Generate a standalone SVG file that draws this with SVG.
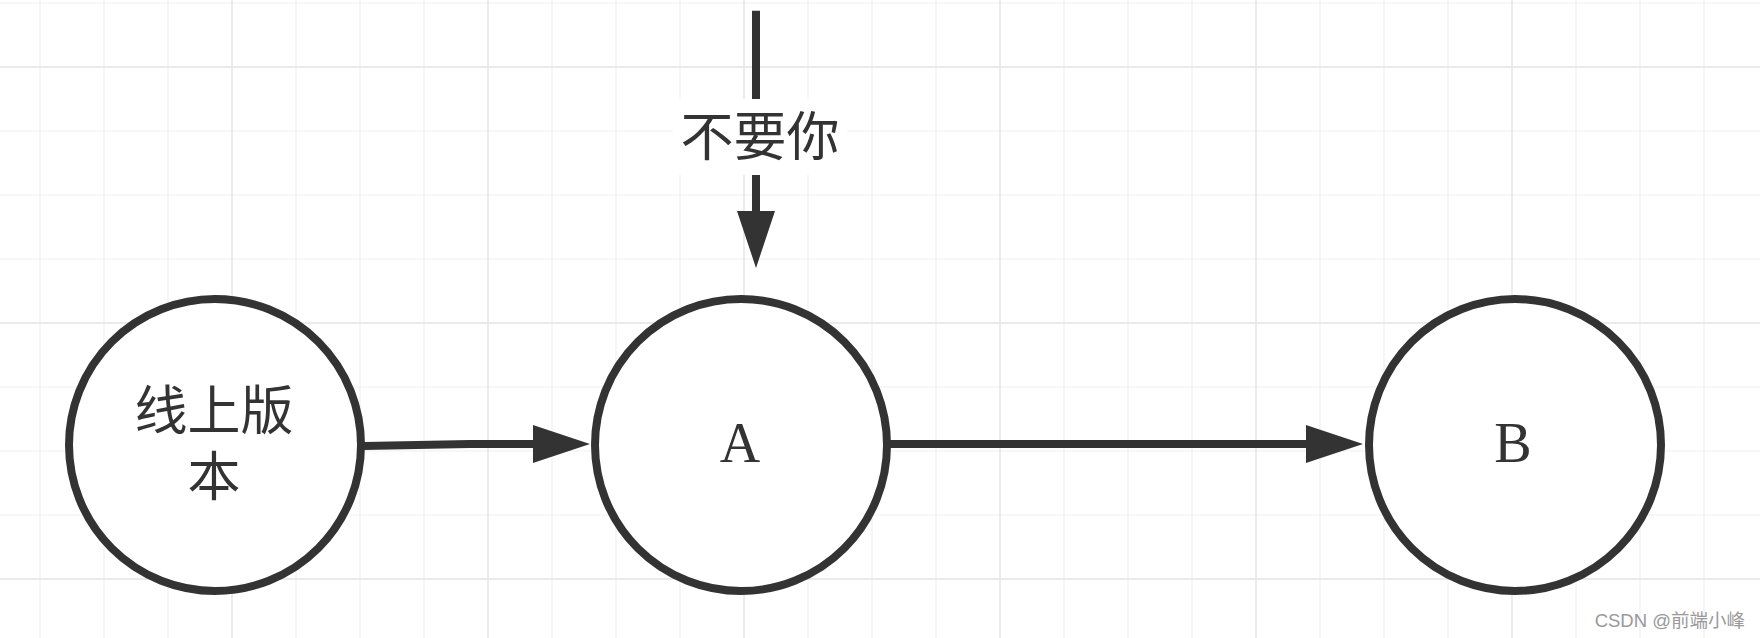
<svg xmlns="http://www.w3.org/2000/svg" width="1760" height="638" viewBox="0 0 1760 638">
<style>
.minor{stroke:#f0f0f0;stroke-width:1.2;fill:none}
.major{stroke:#e4e4e4;stroke-width:1.4;fill:none}
.node{fill:#ffffff;stroke:#333333;stroke-width:8}
.edge{fill:none;stroke:#333333;stroke-width:8;stroke-linejoin:round}
.cjk{font-family:"Liberation Serif","Noto Sans CJK SC",serif;font-size:53px;fill:#333333}
.lat{font-family:"Liberation Serif","Noto Sans CJK SC",serif;font-size:56px;fill:#333333}
.wm{font-family:"Liberation Sans","Noto Sans CJK SC",sans-serif;font-size:18.5px;fill:#999999}
</style>
<defs>
<marker id="arrow" viewBox="0 0 57 38" refX="0" refY="19" markerWidth="57" markerHeight="38" markerUnits="userSpaceOnUse" orient="auto">
<path d="M0,0 L57,19 L0,38 Z" fill="#333333"/>
</marker>
</defs>
<rect width="1760" height="638" fill="#ffffff"/>
<g id="grid">
<path class="minor" d="M40 0V638M104 0V638M168 0V638M296 0V638M360 0V638M424 0V638M552 0V638M616 0V638M680 0V638M808 0V638M872 0V638M936 0V638M1064 0V638M1128 0V638M1192 0V638M1320 0V638M1384 0V638M1448 0V638M1576 0V638M1640 0V638M1704 0V638M0 3H1760M0 131H1760M0 195H1760M0 259H1760M0 387H1760M0 451H1760M0 515H1760"/>
<path class="major" d="M232 0V638M488 0V638M744 0V638M1000 0V638M1256 0V638M1512 0V638M0 67H1760M0 323H1760M0 579H1760"/>
</g>
<g id="connectors">
<path class="edge" d="M364 446 L470 444 L533 444" marker-end="url(#arrow)"/>
<path class="edge" d="M890 444 L1306 444" marker-end="url(#arrow)"/>
<path class="edge" d="M756 10.7 L756 211" marker-end="url(#arrow)"/>
<g id="label-buyaoni">
<rect x="673" y="99" width="174" height="76" fill="#ffffff"/>
<text class="cjk" x="760" y="156" text-anchor="middle">不要你</text>
</g>
</g>
<g id="node-online">
<circle class="node" cx="215" cy="445" r="146"/>
<text class="cjk" x="214" y="429.5" text-anchor="middle">线上版</text>
<text class="cjk" x="214" y="495.5" text-anchor="middle">本</text>
</g>
<g id="node-A">
<circle class="node" cx="741" cy="445" r="146"/>
<text class="lat" x="740" y="461.7" text-anchor="middle">A</text>
</g>
<g id="node-B">
<circle class="node" cx="1515" cy="445" r="146"/>
<text class="lat" x="1513" y="461.7" text-anchor="middle">B</text>
</g>
<text class="wm" x="1745" y="627" text-anchor="end">CSDN @前端小峰</text>
</svg>
